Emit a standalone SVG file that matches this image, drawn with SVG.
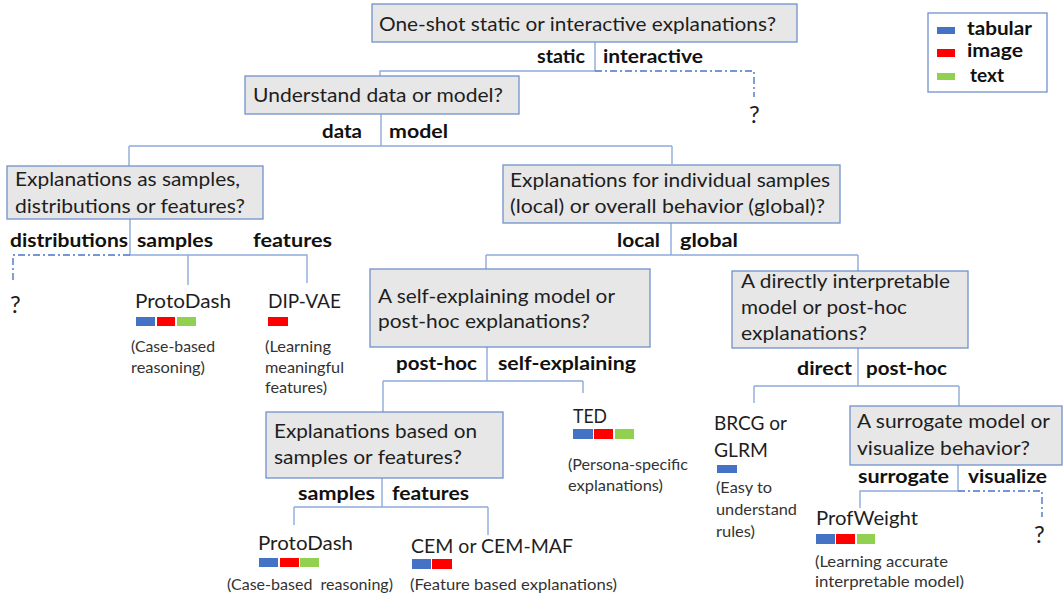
<svg xmlns="http://www.w3.org/2000/svg" width="1063" height="597" viewBox="0 0 1063 597">
<style>
.box{fill:#e7e7e7;stroke:#7191cc;stroke-width:1.3}
.q{font-family:Lato,"Open Sans","Liberation Sans",sans-serif;font-size:20px;fill:#1e1e1e}
.b{font-family:Lato,"Open Sans","Liberation Sans",sans-serif;font-size:19px;font-weight:bold;fill:#111}
.leaf{font-family:Lato,"Open Sans","Liberation Sans",sans-serif;font-size:20px;fill:#1e1e1e}
.qm{font-family:Lato,"Open Sans","Liberation Sans",sans-serif;font-size:24px;fill:#1e1e1e}
.d{font-family:Lato,"Open Sans","Liberation Sans",sans-serif;font-size:15px;fill:#333}
.c{fill:none;stroke:#8eaadb;stroke-width:1.4}
.dd{fill:none;stroke:#4a76c8;stroke-width:1.4;stroke-dasharray:7 3 2 3}
.tb{fill:#4472c4}.im{fill:#ff0000}.tx{fill:#92d050}
</style>
<rect width="1063" height="597" fill="#fff"/>

<g id="connectors">
<path class="c" d="M595 42V71H380V76"/>
<path class="dd" d="M595 71H754V97"/>
<path class="c" d="M381 114V146M129 146H672M129 146V166M672 146V164"/>
<path class="c" d="M130 219V255H307V283M188 255V285"/>
<path class="dd" d="M130 255H13V280"/>
<path class="c" d="M671 223V255M486 255H858M486 255V269M858 255V271"/>
<path class="c" d="M487 347V381M383 381H583M383 381V412M583 381V393"/>
<path class="c" d="M382 478V507M294 507H488M294 507V525M488 507V535"/>
<path class="c" d="M858 348V386M754 386H959M754 386V403M959 386V406"/>
<path class="c" d="M958 465V491H860V508"/>
<path class="dd" d="M958 491H1042V517"/>
</g>

<g id="legend">
<rect x="928" y="13" width="119" height="79" fill="#fff" stroke="#7191cc" stroke-width="1.3"/>
<rect class="tb" x="937" y="27" width="18" height="7"/>
<rect class="im" x="937" y="49" width="18" height="8"/>
<rect class="tx" x="937" y="73" width="18" height="7"/>
<text class="b" x="967" y="35" textLength="65" lengthAdjust="spacingAndGlyphs">tabular</text>
<text class="b" x="967" y="57" textLength="56" lengthAdjust="spacingAndGlyphs">image</text>
<text class="b" x="970" y="82" textLength="34" lengthAdjust="spacingAndGlyphs">text</text>
</g>

<g id="q-oneshot">
<rect class="box" x="372" y="4" width="425" height="38"/>
<text class="q" x="379" y="31" textLength="397" lengthAdjust="spacingAndGlyphs">One-shot static or interactive explanations?</text>
<text class="b" x="537" y="63" textLength="48" lengthAdjust="spacingAndGlyphs">static</text>
<text class="b" x="603" y="63" textLength="100" lengthAdjust="spacingAndGlyphs">interactive</text>
</g>
<g id="unk-interactive"><text class="qm" x="749" y="123">?</text></g>

<g id="q-datamodel">
<rect class="box" x="245" y="76" width="274" height="38"/>
<text class="q" x="253" y="102" textLength="250" lengthAdjust="spacingAndGlyphs">Understand data or model?</text>
<text class="b" x="322" y="138" textLength="40" lengthAdjust="spacingAndGlyphs">data</text>
<text class="b" x="389" y="138" textLength="59" lengthAdjust="spacingAndGlyphs">model</text>
</g>

<g id="q-samples-dist">
<rect class="box" x="7" y="166" width="256" height="53"/>
<text class="q" x="15" y="186" textLength="225" lengthAdjust="spacingAndGlyphs">Explanations as samples,</text>
<text class="q" x="15" y="213" textLength="230" lengthAdjust="spacingAndGlyphs">distributions or features?</text>
<text class="b" x="10" y="247" textLength="118" lengthAdjust="spacingAndGlyphs">distributions</text>
<text class="b" x="137" y="247" textLength="76" lengthAdjust="spacingAndGlyphs">samples</text>
<text class="b" x="253" y="247" textLength="79" lengthAdjust="spacingAndGlyphs">features</text>
</g>
<g id="unk-distributions"><text class="qm" x="10" y="313">?</text></g>

<g id="protodash-1">
<text class="leaf" x="135" y="308" textLength="96" lengthAdjust="spacingAndGlyphs">ProtoDash</text>
<rect class="tb" x="136" y="317" width="19" height="9"/>
<rect class="im" x="157" y="317" width="18" height="9"/>
<rect class="tx" x="177" y="317" width="19" height="9"/>
<text class="d" x="131" y="352" textLength="84" lengthAdjust="spacingAndGlyphs">(Case-based</text>
<text class="d" x="131" y="373" textLength="74" lengthAdjust="spacingAndGlyphs">reasoning)</text>
</g>

<g id="dipvae">
<text class="leaf" x="268" y="308" textLength="73" lengthAdjust="spacingAndGlyphs">DIP-VAE</text>
<rect class="im" x="268" y="317" width="20" height="9"/>
<text class="d" x="265" y="352" textLength="66" lengthAdjust="spacingAndGlyphs">(Learning</text>
<text class="d" x="265" y="373" textLength="79" lengthAdjust="spacingAndGlyphs">meaningful</text>
<text class="d" x="265" y="393" textLength="62" lengthAdjust="spacingAndGlyphs">features)</text>
</g>

<g id="q-local-global">
<rect class="box" x="503" y="165" width="337" height="58"/>
<text class="q" x="510" y="187" textLength="320" lengthAdjust="spacingAndGlyphs">Explanations for individual samples</text>
<text class="q" x="510" y="213" textLength="315" lengthAdjust="spacingAndGlyphs">(local) or overall behavior (global)?</text>
<text class="b" x="617" y="247" textLength="43" lengthAdjust="spacingAndGlyphs">local</text>
<text class="b" x="680" y="247" textLength="58" lengthAdjust="spacingAndGlyphs">global</text>
</g>

<g id="q-self-posthoc">
<rect class="box" x="370" y="269" width="280" height="78"/>
<text class="q" x="378" y="303" textLength="237" lengthAdjust="spacingAndGlyphs">A self-explaining model or</text>
<text class="q" x="378" y="328" textLength="212" lengthAdjust="spacingAndGlyphs">post-hoc explanations?</text>
<text class="b" x="396" y="370" textLength="81" lengthAdjust="spacingAndGlyphs">post-hoc</text>
<text class="b" x="498" y="370" textLength="138" lengthAdjust="spacingAndGlyphs">self-explaining</text>
</g>

<g id="ted">
<text class="leaf" x="573" y="423" textLength="34" lengthAdjust="spacingAndGlyphs">TED</text>
<rect class="tb" x="573" y="429" width="20" height="10"/>
<rect class="im" x="594" y="429" width="19" height="10"/>
<rect class="tx" x="615" y="429" width="19" height="10"/>
<text class="d" x="568" y="470" textLength="120" lengthAdjust="spacingAndGlyphs">(Persona-specific</text>
<text class="d" x="568" y="491" textLength="95" lengthAdjust="spacingAndGlyphs">explanations)</text>
</g>

<g id="q-samples-features">
<rect class="box" x="266" y="412" width="237" height="66"/>
<text class="q" x="274" y="438" textLength="203" lengthAdjust="spacingAndGlyphs">Explanations based on</text>
<text class="q" x="274" y="464" textLength="188" lengthAdjust="spacingAndGlyphs">samples or features?</text>
<text class="b" x="298" y="500" textLength="77" lengthAdjust="spacingAndGlyphs">samples</text>
<text class="b" x="392" y="500" textLength="77" lengthAdjust="spacingAndGlyphs">features</text>
</g>

<g id="protodash-2">
<text class="leaf" x="258" y="550" textLength="95" lengthAdjust="spacingAndGlyphs">ProtoDash</text>
<rect class="tb" x="259" y="558" width="19" height="9"/>
<rect class="im" x="280" y="558" width="19" height="9"/>
<rect class="tx" x="300" y="558" width="19" height="9"/>
<text class="d" x="227" y="590" textLength="166" lengthAdjust="spacingAndGlyphs" xml:space="preserve">(Case-based  reasoning)</text>
</g>

<g id="cem">
<text class="leaf" x="411" y="553" textLength="162" lengthAdjust="spacingAndGlyphs">CEM or CEM-MAF</text>
<rect class="tb" x="412" y="559" width="19" height="10"/>
<rect class="im" x="432" y="559" width="20" height="10"/>
<text class="d" x="410" y="590" textLength="207" lengthAdjust="spacingAndGlyphs">(Feature based explanations)</text>
</g>

<g id="q-direct-posthoc">
<rect class="box" x="732" y="271" width="236" height="77"/>
<text class="q" x="741" y="288" textLength="209" lengthAdjust="spacingAndGlyphs">A directly interpretable</text>
<text class="q" x="741" y="314" textLength="166" lengthAdjust="spacingAndGlyphs">model or post-hoc</text>
<text class="q" x="741" y="340" textLength="126" lengthAdjust="spacingAndGlyphs">explanations?</text>
<text class="b" x="797" y="375" textLength="55" lengthAdjust="spacingAndGlyphs">direct</text>
<text class="b" x="866" y="375" textLength="81" lengthAdjust="spacingAndGlyphs">post-hoc</text>
</g>

<g id="brcg">
<text class="leaf" x="714" y="430" textLength="73" lengthAdjust="spacingAndGlyphs">BRCG or</text>
<text class="leaf" x="714" y="457" textLength="54" lengthAdjust="spacingAndGlyphs">GLRM</text>
<rect class="tb" x="717" y="465" width="20" height="8"/>
<text class="d" x="716" y="493" textLength="56" lengthAdjust="spacingAndGlyphs">(Easy to</text>
<text class="d" x="716" y="515" textLength="81" lengthAdjust="spacingAndGlyphs">understand</text>
<text class="d" x="716" y="537" textLength="39" lengthAdjust="spacingAndGlyphs">rules)</text>
</g>

<g id="q-surrogate">
<rect class="box" x="850" y="406" width="212" height="59"/>
<text class="q" x="857" y="428" textLength="193" lengthAdjust="spacingAndGlyphs">A surrogate model or</text>
<text class="q" x="857" y="455" textLength="173" lengthAdjust="spacingAndGlyphs">visualize behavior?</text>
<text class="b" x="858" y="483" textLength="91" lengthAdjust="spacingAndGlyphs">surrogate</text>
<text class="b" x="968" y="483" textLength="79" lengthAdjust="spacingAndGlyphs">visualize</text>
</g>
<g id="unk-visualize"><text class="qm" x="1034" y="543">?</text></g>

<g id="profweight">
<text class="leaf" x="816" y="525" textLength="102" lengthAdjust="spacingAndGlyphs">ProfWeight</text>
<rect class="tb" x="816" y="534" width="19" height="10"/>
<rect class="im" x="836" y="534" width="19" height="10"/>
<rect class="tx" x="857" y="534" width="18" height="10"/>
<text class="d" x="815" y="567" textLength="133" lengthAdjust="spacingAndGlyphs">(Learning accurate</text>
<text class="d" x="815" y="587" textLength="149" lengthAdjust="spacingAndGlyphs">interpretable model)</text>
</g>
</svg>
